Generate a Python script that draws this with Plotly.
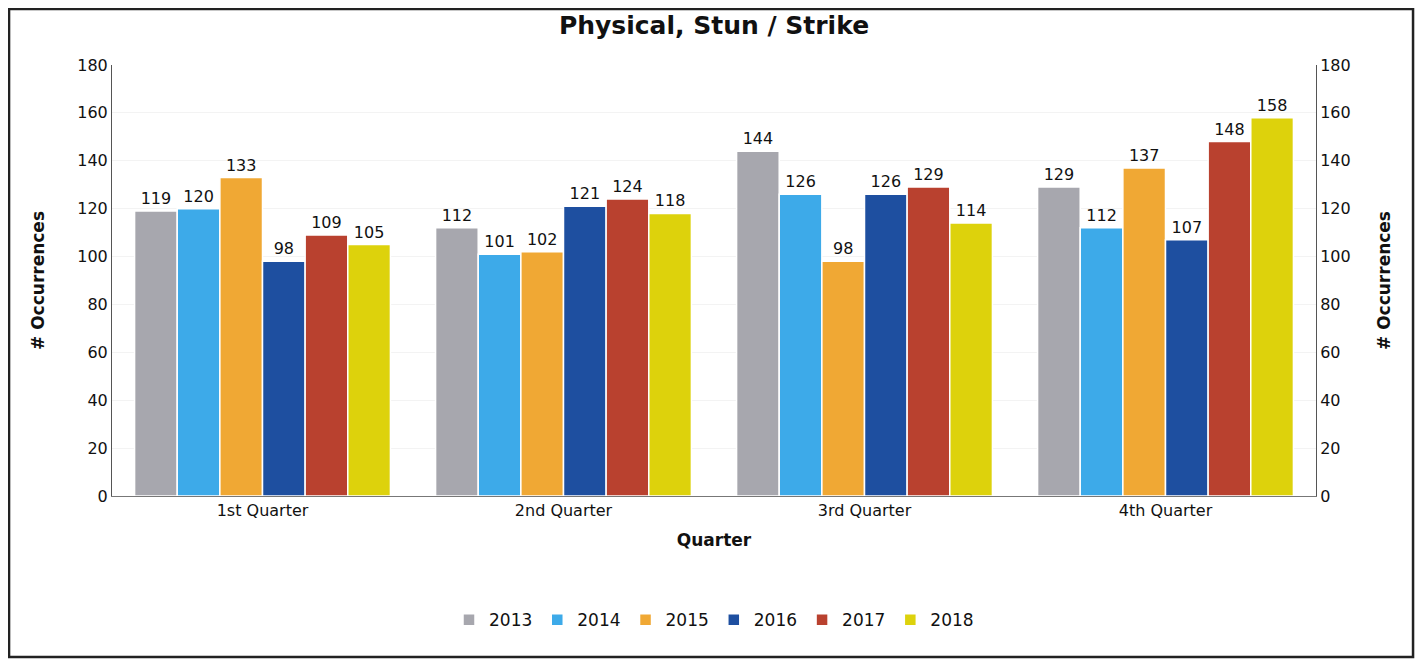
import plotly.graph_objects as go

quarters = ["1st Quarter", "2nd Quarter", "3rd Quarter", "4th Quarter"]
years = ["2013", "2014", "2015", "2016", "2017", "2018"]
values = {
    "2013": [119, 112, 144, 129],
    "2014": [120, 101, 126, 112],
    "2015": [133, 102, 98, 137],
    "2016": [98, 121, 126, 107],
    "2017": [109, 124, 129, 148],
    "2018": [105, 118, 114, 158],
}
colors = ["#A7A7AE", "#3DAAE9", "#F0A834", "#1E4FA0", "#B9412F", "#DDD20C"]
y_ticks = [0, 20, 40, 60, 80, 100, 120, 140, 160, 180]

FONT = "DejaVu Sans"

fig = go.Figure()
for yr, col in zip(years, colors):
    fig.add_trace(go.Bar(
        x=quarters, y=values[yr], name=yr,
        marker=dict(color=col, line=dict(color="white", width=1.5)),
        text=values[yr], textposition="outside", cliponaxis=False,
        textfont=dict(family=FONT, size=16, color="#111"),
    ))

# invisible trace so the right-hand axis is drawn
fig.add_trace(go.Scatter(x=quarters, y=values["2013"], yaxis="y2", mode="markers",
                         marker=dict(opacity=0), showlegend=False, hoverinfo="skip"))

fig.update_layout(
    width=1412, height=651,
    paper_bgcolor="white", plot_bgcolor="white",
    font=dict(family=FONT, size=16, color="#111"),
    title=dict(text="<b>Physical, Stun / Strike</b>", x=0.5, xanchor="center",
               y=1 - 17 / 651, yanchor="middle", font=dict(size=25, color="#111")),
    barmode="group", bargap=0.15, bargroupgap=0,
    margin=dict(l=104, r=104, t=57, b=163),
    legend=dict(orientation="h", x=0.5, xanchor="center", y=-0.288, yanchor="middle",
                font=dict(size=17), traceorder="normal"),
    xaxis=dict(title=dict(text="<b>Quarter</b>", font=dict(size=17), standoff=14),
               showline=True, linecolor="#777", linewidth=1, ticks="",
               tickfont=dict(size=16)),
    yaxis=dict(title=dict(text="<b># Occurrences</b>", font=dict(size=17), standoff=28),
               range=[0, 180], tickvals=y_ticks, showline=True, linecolor="#555",
               linewidth=1, gridcolor="#f3f3f3", zeroline=False, ticks=""),
    yaxis2=dict(title=dict(text="<b># Occurrences</b>", font=dict(size=17), standoff=28),
                range=[0, 180], tickvals=y_ticks, overlaying="y", side="right",
                showline=True, linecolor="#555", linewidth=1, showgrid=False,
                zeroline=False, ticks=""),
)

# frame around the whole chart
fig.add_shape(type="rect", xref="paper", yref="paper",
              x0=-0.0855, x1=1.0806, y0=-0.3735, y1=1.130,
              line=dict(color="#222", width=2.5))

fig.write_html("out.html")
